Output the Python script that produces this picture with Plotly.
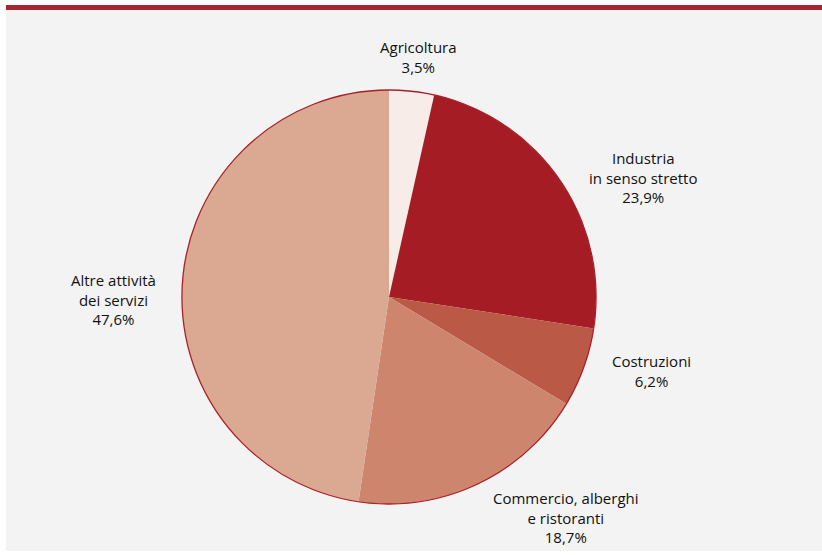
import plotly.graph_objects as go

# Quote dell'occupazione per settore (%)
settori = ["Agricoltura", "Industria\nin senso stretto", "Costruzioni",
           "Commercio, alberghi\ne ristoranti", "Altre attività\ndei servizi"]
quote = [3.5, 23.9, 6.2, 18.7, 47.6]
colori = ["#F8ECE8", "#A61C24", "#BA5946", "#CD866D", "#DBA892"]

# Centro delle etichette, in pixel della pagina
etichette_xy = [(418, 57), (643, 177), (651, 371), (566, 517), (113, 299)]

W, H = 822, 555
CX, CY, R = 389, 297, 207

dom_x = [(CX - R) / W, (CX + R) / W]
dom_y = [(H - CY - R) / H, (H - CY + R) / H]

fig = go.Figure()
fig.add_trace(go.Pie(
    labels=settori, values=quote, sort=False, direction="clockwise",
    rotation=0, marker=dict(colors=colori, line=dict(width=0)),
    textinfo="none", hoverinfo="label+percent", showlegend=False,
    domain=dict(x=dom_x, y=dom_y),
))
# Bordo esterno del grafico
fig.add_trace(go.Pie(
    values=[1], marker=dict(colors=["rgba(0,0,0,0)"], line=dict(color="#A8202A", width=1.3)),
    textinfo="none", hoverinfo="skip", showlegend=False, sort=False,
    domain=dict(x=dom_x, y=dom_y),
))

annotations = []
for nome, q, (px, py) in zip(settori, quote, etichette_xy):
    testo = nome.replace("\n", "<br>") + "<br>" + f"{q:.1f}".replace(".", ",") + "%"
    annotations.append(dict(
        x=px / W, y=1 - py / H, xref="paper", yref="paper", text=testo,
        showarrow=False, align="center", xanchor="center", yanchor="middle",
        font=dict(family="Open Sans", size=15, color="#111111"),
    ))

fig.update_layout(
    width=W, height=H, margin=dict(l=0, r=0, t=0, b=0),
    paper_bgcolor="white", plot_bgcolor="white",
    annotations=annotations,
    shapes=[
        dict(type="rect", xref="paper", yref="paper", x0=6 / W, x1=1, y0=1 - 551 / H, y1=1 - 10 / H,
             fillcolor="#F3F3F3", line=dict(width=0), layer="below"),
        dict(type="rect", xref="paper", yref="paper", x0=6 / W, x1=1, y0=1 - 10 / H, y1=1 - 5 / H,
             fillcolor="#A8242E", line=dict(width=0), layer="below"),
    ],
)

fig.write_html("out.html")
